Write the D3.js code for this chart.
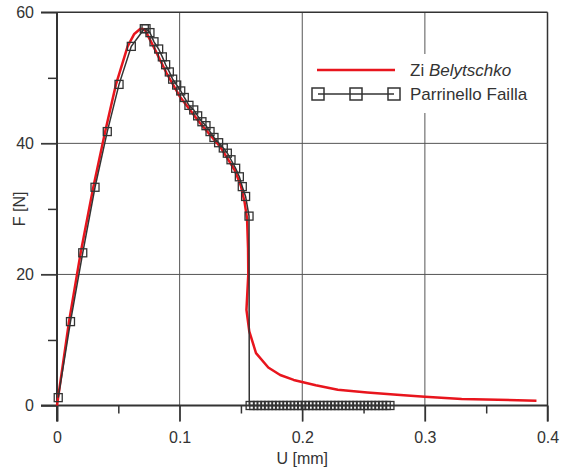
<!DOCTYPE html>
<html>
<head>
<meta charset="utf-8">
<script src="https://cdn.jsdelivr.net/npm/d3@7"></script>
<style>
  body { margin: 0; background: #fff; }
  text { font-family: "Liberation Sans", Arial, sans-serif; fill: #333; }
</style>
</head>
<body>
<div id="chart"></div>
<script>
// chart size
var width = 563,
    height = 470

// Zi Belytschko curve (U [mm], F [N])
var ziU = [0, 0.0098, 0.0193, 0.0296, 0.0393, 0.0481, 0.0576, 0.063, 0.068, 0.0715, 0.0786, 0.0894, 0.1003, 0.1166, 0.133, 0.14, 0.145, 0.15, 0.153, 0.155, 0.1558, 0.156, 0.1545, 0.1568, 0.1623, 0.1723, 0.182, 0.193, 0.211, 0.229, 0.253, 0.28, 0.30, 0.33, 0.391]
var ziF = [0, 12.8, 23.3, 33.3, 41.8, 49.0, 54.8, 56.7, 57.5, 57.4, 54.8, 50.7, 47.1, 43.1, 39.5, 37.4, 35.9, 33.5, 31.0, 28.5, 24.0, 20.0, 14.6, 11.3, 8.0, 5.8, 4.65, 3.9, 3.1, 2.4, 2.0, 1.6, 1.35, 1.0, 0.73]

// Parrinello Failla points
var pfU = [0.001, 0.011, 0.021, 0.031, 0.041, 0.0506, 0.0606, 0.0712, 0.0726, 0.0758, 0.0791, 0.0829, 0.0859, 0.0886, 0.0916, 0.0943, 0.0976, 0.1009, 0.1038, 0.1076, 0.1115, 0.1147, 0.1182, 0.1215, 0.1248, 0.128, 0.1318, 0.1356, 0.1389, 0.1419, 0.1457, 0.1487, 0.1511, 0.1538, 0.1566,
  0.1575, 0.1605, 0.1635, 0.1665, 0.1695, 0.1725, 0.1755, 0.1785, 0.1815, 0.1845, 0.1875, 0.1905, 0.1935, 0.1965, 0.1995, 0.2025, 0.2055, 0.2085, 0.2115, 0.2145, 0.2175, 0.2205, 0.2235, 0.2265, 0.2295, 0.2325, 0.2355, 0.2385, 0.2415, 0.2445, 0.2475, 0.2505, 0.2535, 0.2565, 0.2595, 0.2625, 0.2655, 0.2685, 0.2715]
var pfF = [1.2, 12.8, 23.3, 33.3, 41.8, 49.0, 54.8, 57.5, 57.5, 56.9, 55.5, 54.4, 53.2, 52.0, 50.9, 49.8, 48.9, 48.0, 47.0, 45.8, 45.1, 44.2, 43.3, 42.7, 41.8, 40.9, 40.1, 39.3, 38.5, 37.5, 36.2, 34.9, 33.4, 31.9, 28.9,
  0, 0, 0, 0, 0, 0, 0, 0, 0, 0, 0, 0, 0, 0, 0, 0, 0, 0, 0, 0, 0, 0, 0, 0, 0, 0, 0, 0, 0, 0, 0, 0, 0, 0, 0, 0, 0, 0, 0]
// the line drops straight down before the zero points
var pfLineU = [0.1566, 0.1568]
var pfLineF = [28.9, 0]

var xTicks = [0, 0.1, 0.2, 0.3, 0.4]
var xMinor = [0.05, 0.15, 0.25, 0.35]
var yTicks = [0, 20, 40, 60]
var yMinor = [10, 30, 50]

var svg = d3.select("#chart")
    .append("svg")
    .attr("width", width)
    .attr("height", height)

var x = d3.scaleLinear().domain([0, 0.4]).range([57, 547.5])
var y = d3.scaleLinear().domain([0, 60]).range([405.5, 12.3])

// grid lines
svg.append("g")
    .selectAll("line.vg")
    .data(xTicks.slice(1))
    .enter().append("line")
    .attr("x1", d => x(d)).attr("x2", d => x(d))
    .attr("y1", y(60)).attr("y2", y(0) + 16)
    .attr("stroke", d => d == 0.4 ? "#333" : "#555")
    .attr("stroke-width", d => d == 0.4 ? 1.5 : 1)

svg.append("g")
    .selectAll("line.hg")
    .data(yTicks.slice(1))
    .enter().append("line")
    .attr("x1", x(0) - 16).attr("x2", x(0.4))
    .attr("y1", d => y(d)).attr("y2", d => y(d))
    .attr("stroke", d => d == 60 ? "#333" : "#555")
    .attr("stroke-width", d => d == 60 ? 1.5 : 1)

// axes
var xAxis = svg.append("g")
    .attr("transform", "translate(0," + y(0) + ")")
    .call(d3.axisBottom(x).tickValues(xTicks).tickSize(16).tickPadding(10).tickFormat(d => d))
var xAxisMinor = svg.append("g")
    .attr("transform", "translate(0," + y(0) + ")")
    .call(d3.axisBottom(x).tickValues(xMinor).tickSize(8).tickFormat(""))
var yAxis = svg.append("g")
    .attr("transform", "translate(" + x(0) + ",0)")
    .call(d3.axisLeft(y).tickValues(yTicks).tickSize(16).tickPadding(7))
var yAxisMinor = svg.append("g")
    .attr("transform", "translate(" + x(0) + ",0)")
    .call(d3.axisLeft(y).tickValues(yMinor).tickSize(9).tickFormat(""))

;[xAxis, xAxisMinor, yAxis, yAxisMinor].forEach(function(a) {
    a.select(".domain").remove()
    a.selectAll("line").attr("stroke", "#333").attr("stroke-width", 1.5)
    a.selectAll("text").style("font-size", "16px").attr("fill", "#333")
})
xAxis.selectAll("line").attr("stroke-width", d => d == 0 ? 2 : 1.5)

// main axis lines
svg.append("line")
    .attr("x1", x(0) - 16).attr("x2", x(0.4))
    .attr("y1", y(0)).attr("y2", y(0))
    .attr("stroke", "#333").attr("stroke-width", 2)
svg.append("line")
    .attr("x1", x(0)).attr("x2", x(0))
    .attr("y1", y(60)).attr("y2", y(0) + 16)
    .attr("stroke", "#333").attr("stroke-width", 2)

// axis titles
svg.append("text")
    .attr("x", (x(0) + x(0.4)) / 2)
    .attr("y", 464)
    .attr("text-anchor", "middle")
    .style("font-size", "16px")
    .text("U [mm]")
svg.append("text")
    .attr("transform", "translate(25," + y(30) + ") rotate(-90)")
    .attr("text-anchor", "middle")
    .style("font-size", "16px")
    .text("F [N]")

// legend background covers grid
svg.append("rect")
    .attr("x", 308).attr("y", 54)
    .attr("width", 232).attr("height", 59)
    .attr("fill", "#fff")

// data lines
var line = d3.line().x(d => x(d[0])).y(d => y(d[1]))

var pfMain = pfU.slice(0, 35).map((u, i) => [u, pfF[i]])
var pfDrop = pfLineU.map((u, i) => [u, pfLineF[i]])
var pfZero = pfU.slice(35).map((u, i) => [u, pfF[35 + i]])

svg.append("path")
    .datum(ziU.map((u, i) => [u, ziF[i]]))
    .attr("d", line)
    .attr("fill", "none")
    .attr("stroke", "#e8151d")
    .attr("stroke-width", 2.5)
    .attr("stroke-linejoin", "round")

svg.append("path")
    .datum(pfMain.concat(pfDrop, pfZero))
    .attr("d", line)
    .attr("fill", "none")
    .attr("stroke", "#333")
    .attr("stroke-width", 1.5)

svg.append("g")
    .selectAll("rect")
    .data(pfU.map((u, i) => [u, pfF[i]]))
    .enter().append("rect")
    .attr("x", d => x(d[0]) - 4)
    .attr("y", d => y(d[1]) - 4)
    .attr("width", 8).attr("height", 8)
    .attr("fill", "none")
    .attr("stroke", "#333")
    .attr("stroke-width", 1.3)

// legend
svg.append("line")
    .attr("x1", 317).attr("x2", 395)
    .attr("y1", 70).attr("y2", 70)
    .attr("stroke", "#e8151d").attr("stroke-width", 2.5)
var t1 = svg.append("text")
    .attr("x", 410).attr("y", 70).attr("dy", "0.35em")
    .style("font-size", "17px")
t1.append("tspan").text("Zi ")
t1.append("tspan").style("font-style", "italic").text("Belytschko")

svg.append("line")
    .attr("x1", 318).attr("x2", 394)
    .attr("y1", 94).attr("y2", 94)
    .attr("stroke", "#333").attr("stroke-width", 1.5)
svg.append("g")
    .selectAll("rect")
    .data([318, 356, 394])
    .enter().append("rect")
    .attr("x", d => d - 6).attr("y", 88)
    .attr("width", 12).attr("height", 12)
    .attr("fill", "none")
    .attr("stroke", "#333")
    .attr("stroke-width", 1.5)
svg.append("text")
    .attr("x", 410).attr("y", 94).attr("dy", "0.35em")
    .style("font-size", "17px")
    .text("Parrinello Failla")
</script>
</body>
</html>
